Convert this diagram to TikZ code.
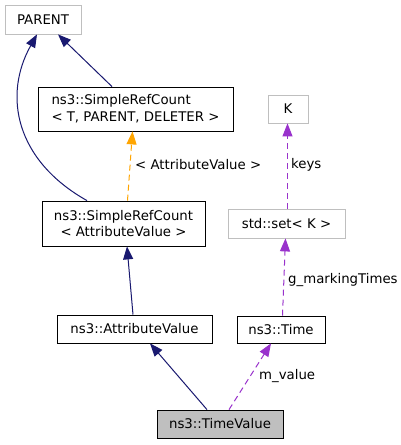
\documentclass[tikz,border=0pt]{standalone}
\usepackage{fontspec}
\setmainfont{DejaVu Sans}
\usetikzlibrary{arrows.meta}
\definecolor{edgeblue}{RGB}{25,25,112}
\definecolor{edgeorange}{RGB}{255,165,0}
\definecolor{edgepurple}{RGB}{153,50,204}
\definecolor{boxgray}{RGB}{191,191,191}
\begin{document}
\begin{tikzpicture}[x=1pt,y=-1pt,
  box/.style={draw=black,line width=0.8pt,inner sep=0pt,font=\fontsize{13.3}{16.7}\selectfont},
  graybox/.style={box,draw=boxgray},
  lbl/.style={anchor=west,inner sep=0pt,font=\fontsize{13.3}{16.7}\selectfont},
  tip/.style={-{Triangle[length=13pt,width=10pt]}},
  inh/.style={tip,draw=edgeblue,line width=1pt},
  tmpl/.style={tip,draw=edgeorange,line width=1pt,dash pattern=on 6pt off 4pt},
  usage/.style={tip,draw=edgepurple,line width=1pt,dash pattern=on 6pt off 4pt}]
\useasboundingbox[fill=white] (0,0) rectangle (401,445);
\node[graybox,minimum width=76pt,minimum height=29pt] (parent) at (43,19.5) {PARENT};
\node[box,minimum width=195pt,minimum height=44pt,align=left] (src1) at (135.5,109) {ns3::SimpleRefCount\\< T, PARENT, DELETER >};
\node[box,minimum width=163pt,minimum height=45pt,align=center] (src2) at (123.5,223.5) {ns3::SimpleRefCount\\< AttributeValue >};
\node[box,minimum width=155pt,minimum height=28pt] (av) at (134.5,329) {ns3::AttributeValue};
\node[box,fill=boxgray,minimum width=126pt,minimum height=28pt] (tv) at (220,424) {ns3::TimeValue};
\node[box,minimum width=88pt,minimum height=27pt] (time) at (281,329.5) {ns3::Time};
\node[graybox,minimum width=117pt,minimum height=29pt] (set) at (286.5,223.5) {std::set< K >};
\node[graybox,minimum width=40pt,minimum height=28pt] (k) at (288,109) {K};
\draw[inh] ([xshift=-23.5pt]src1.north) -- ([xshift=15pt]parent.south);
\draw[inh] ([xshift=-36.5pt]src2.north) .. controls (15,160) and (3,95) .. ([xshift=-6pt]parent.south);
\draw[tmpl] ([xshift=4pt]src2.north) -- ([xshift=-3pt]src1.south);
\draw[inh] ([xshift=-1.5pt]av.north) -- ([xshift=3.5pt]src2.south);
\draw[inh] ([xshift=-13pt]tv.north) -- ([xshift=15.5pt]av.south);
\draw[usage] ([xshift=9pt]tv.north) -- ([xshift=-10pt]time.south);
\draw[usage] ([xshift=1.5pt]time.north) -- ([xshift=-1pt]set.south);
\draw[usage] ([xshift=1pt]set.north) -- ([xshift=-0.5pt]k.south);
\node[lbl] (l1) at (135,165) {< AttributeValue >};
\node[lbl] (l2) at (291,165) {keys};
\node[lbl] (l3) at (288,280) {g\_markingTimes};
\node[lbl] (l4) at (259,376) {m\_value};
\end{tikzpicture}
\end{document}
